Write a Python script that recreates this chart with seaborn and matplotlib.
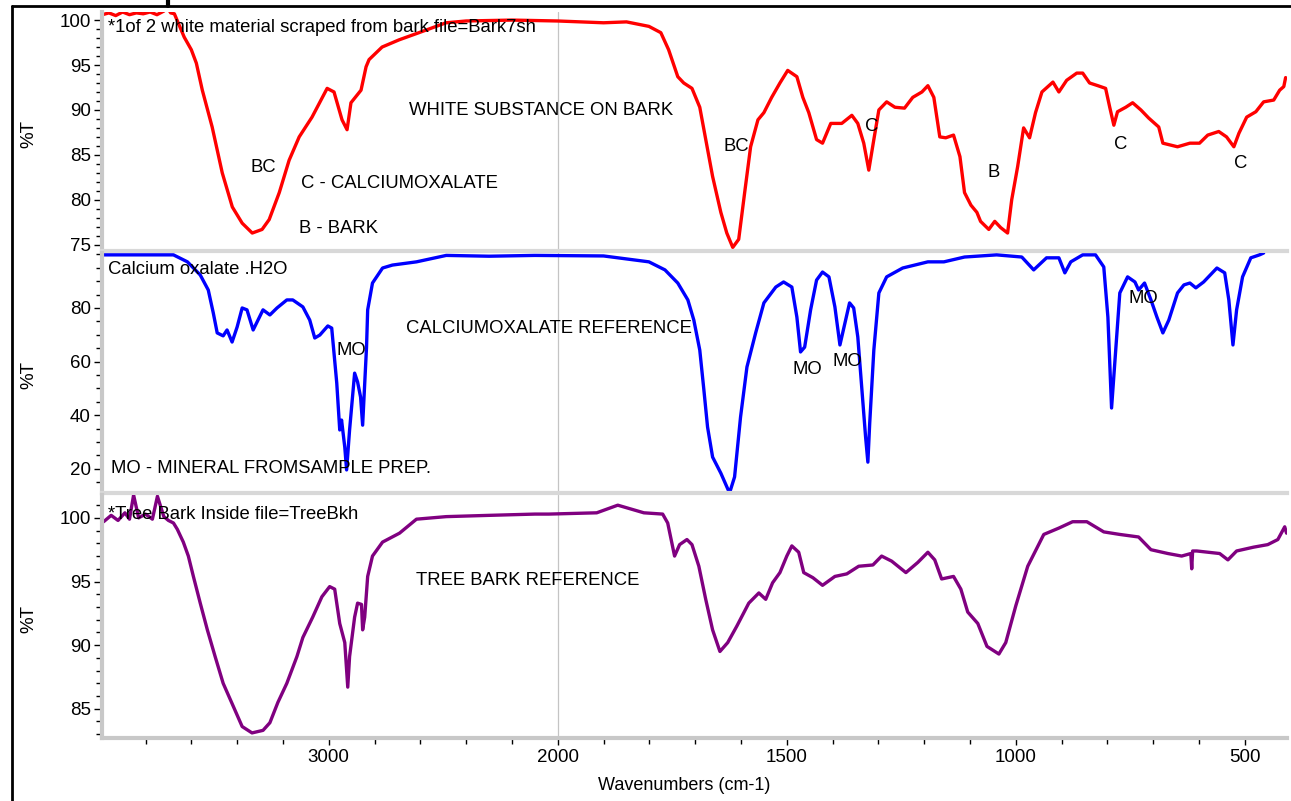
import numpy as np
import pandas as pd
import matplotlib
matplotlib.use("Agg")
import matplotlib.pyplot as plt
from matplotlib.lines import Line2D
from matplotlib.ticker import FixedLocator, NullFormatter
import seaborn as sns

# ---------------- data (wavenumber cm-1, %T) ----------------
red_wn = [3988, 3960, 3930, 3900, 3870, 3840, 3810, 3780, 3750, 3720, 3705, 3690, 3674,
          3631, 3600, 3578, 3552, 3509, 3465, 3421, 3378, 3334, 3291, 3260, 3216, 3173,
          3129, 3073, 3007, 2977, 2942, 2920, 2903, 2859, 2837, 2824, 2767, 2693, 2606,
          2488, 2400, 2200, 2000, 1900, 1850, 1820,
          1801, 1775, 1758, 1738, 1725, 1707, 1690, 1677, 1662, 1644, 1631, 1618, 1605,
          1592, 1579, 1563, 1550, 1533, 1515, 1498, 1478, 1465, 1452, 1435, 1422, 1404,
          1380, 1358, 1345, 1332, 1321, 1310, 1299, 1282, 1264, 1243, 1225, 1205, 1192,
          1179, 1166, 1153, 1136, 1122, 1112, 1098, 1085, 1077, 1059, 1046, 1033, 1018,
          1009, 996, 983, 970, 957, 943, 919, 906, 889, 867, 854, 839, 821, 804, 795,
          786, 778, 760, 745, 727, 710, 688, 679, 647, 620, 599, 581, 557, 540, 524, 513,
          496, 476, 459, 437, 424, 415, 411]
red_t = [100.6, 100.8, 100.5, 100.9, 100.6, 100.8, 100.7, 100.9, 100.6, 101.0, 101.4, 100.8, 100.7,
         98.1, 96.7, 95.2, 92.2, 88.1, 83.0, 79.2, 77.4, 76.3, 76.7, 77.8, 80.8, 84.4,
         87.0, 89.2, 92.4, 92.0, 88.9, 87.8, 90.8, 92.2, 94.8, 95.6, 97.0, 97.8, 98.6,
         99.7, 99.9, 100.0, 99.9, 99.7, 99.8, 99.5,
         99.3, 98.6, 96.7, 93.7, 93.0, 92.4, 90.3, 86.7, 82.6, 78.6, 76.3, 74.7, 75.6,
         80.8, 85.9, 88.9, 89.7, 91.4, 93.0, 94.4, 93.7, 91.4, 89.7, 86.7, 86.3, 88.5,
         88.5, 89.4, 88.5, 86.3, 83.3, 86.7, 90.0, 90.9, 90.3, 90.2, 91.4, 92.0, 92.7,
         91.4, 87.0, 86.9, 87.2, 84.8, 80.8, 79.4, 78.6, 77.6, 76.7, 77.6, 76.9, 76.3,
         80.0, 83.7, 88.0, 86.9, 89.7, 92.0, 93.1, 92.0, 93.3, 94.1, 94.1, 93.0, 92.7, 92.4, 90.3,
         88.3, 89.8, 90.3, 90.8, 90.0, 89.1, 88.1, 86.3, 85.9, 86.3, 86.3, 87.2, 87.6, 87.0, 85.9, 87.4,
         89.2, 89.8, 90.9, 91.1, 92.2, 92.6, 93.6]

blue_wn = [3983, 3678, 3617, 3561, 3526, 3504, 3487, 3461, 3444, 3422, 3400, 3378, 3357,
           3330, 3309, 3287, 3257, 3226, 3183, 3157, 3113, 3083, 3061, 3039, 3004, 2987,
           2974, 2965, 2952, 2944, 2930, 2922, 2909, 2896, 2887, 2874, 2861, 2852, 2843,
           2835, 2830, 2809, 2765, 2722, 2617, 2487, 2300, 2100, 1900,
           1801, 1766, 1738, 1716, 1703, 1690, 1681, 1673, 1662, 1644, 1625, 1614, 1601,
           1587, 1568, 1550, 1524, 1507, 1489, 1478, 1470, 1461, 1448, 1435, 1422, 1408,
           1395, 1384, 1373, 1363, 1354, 1345, 1336, 1328, 1323, 1319, 1310, 1299, 1282,
           1247, 1192, 1157, 1112, 1042, 987, 961, 933, 906, 893, 880, 854, 826, 808, 799,
           791, 782, 773, 756, 740, 732, 719, 705, 692, 679, 666, 647, 633, 620, 607, 590,
           561, 544, 535, 526, 518, 505, 487, 468, 459]
blue_t = [99.8, 99.8, 97.2, 92.3, 86.7, 78.1, 70.7, 69.6, 71.8, 67.3, 72.9, 80.0, 79.3,
          71.8, 75.5, 79.3, 77.4, 80.0, 83.0, 83.0, 80.4, 75.5, 68.8, 69.9, 73.3, 72.5,
          60.6, 52.0, 34.5, 38.2, 28.1, 19.6, 34.5, 46.8, 55.7, 52.4, 46.8, 36.3, 52.0,
          65.4, 79.3, 89.3, 94.9, 96.0, 97.2, 99.6, 99.3, 99.6, 99.4,
          97.2, 94.2, 89.3, 83.0, 75.5, 64.3, 49.4, 35.6, 24.4, 18.4, 11.0, 17.0, 39.3,
          58.0, 70.7, 81.9, 87.8, 89.7, 87.8, 76.6, 63.6, 65.4, 79.3, 90.4, 93.4, 91.6,
          80.4, 66.2, 74.4, 81.9, 80.0, 69.2, 49.4, 31.9, 22.5, 37.0, 64.3, 85.6, 91.6,
          94.9, 97.2, 97.2, 99.0, 99.8, 99.0, 94.2, 98.7, 98.7, 93.1, 97.2, 99.8, 99.8, 95.3, 76.6,
          42.7, 64.3, 85.6, 91.6, 89.7, 86.7, 89.3, 83.0, 76.6, 70.7, 75.5, 85.6, 88.6, 89.3, 87.5, 89.7,
          94.9, 93.1, 83.0, 66.2, 79.3, 91.6, 98.7, 99.8, 100.5]

purple_wn = [3983, 3950, 3920, 3890, 3870, 3852, 3830, 3800, 3770, 3748, 3720, 3700, 3678,
             3661, 3635, 3613, 3591, 3561, 3530, 3496, 3461, 3417, 3378, 3335, 3287, 3257,
             3222, 3183, 3139, 3113, 3070, 3030, 2996, 2974, 2952, 2930, 2917, 2909, 2887,
             2874, 2857, 2852, 2843, 2830, 2809, 2765, 2691, 2617, 2487, 2300, 2100, 2039,
             1915, 1869, 1812, 1771, 1760, 1745, 1734, 1718, 1707, 1692, 1677, 1662, 1646,
             1629, 1609, 1583, 1561, 1546, 1531, 1515, 1500, 1489, 1474, 1463, 1443, 1422,
             1395, 1369, 1343, 1312, 1293, 1271, 1240, 1214, 1192, 1177, 1162, 1136, 1120,
             1105, 1083, 1063, 1037, 1022, 1000, 974, 939, 906, 876, 845, 808, 773, 732,
             705, 668, 638, 618, 616, 614, 605, 555, 537, 518, 481, 450, 428, 413, 409]
purple_t = [99.7, 100.2, 99.8, 100.4, 99.9, 101.8, 100.0, 100.3, 99.9, 101.7, 100.1, 99.8, 99.6,
            99.1, 98.1, 97.0, 95.4, 93.3, 91.2, 89.1, 87.0, 85.2, 83.6, 83.1, 83.3, 83.9,
            85.5, 87.0, 89.1, 90.6, 92.2, 93.8, 94.6, 94.4, 91.7, 90.2, 86.7, 89.1, 92.2,
            93.3, 93.2, 91.2, 92.2, 95.4, 97.0, 98.1, 98.8, 99.9, 100.1, 100.2, 100.3, 100.3,
            100.4, 101.0, 100.4, 100.3, 99.6, 97.0, 97.9, 98.3, 97.9, 96.2, 93.6, 91.2, 89.5,
            90.2, 91.5, 93.3, 94.1, 93.6, 94.9, 95.7, 97.0, 97.8, 97.3, 95.7, 95.3, 94.7,
            95.4, 95.6, 96.2, 96.3, 97.0, 96.6, 95.7, 96.5, 97.3, 96.7, 95.2, 95.4, 94.4,
            92.6, 91.7, 89.9, 89.3, 90.2, 93.1, 96.2, 98.7, 99.2, 99.7, 99.7, 98.9, 98.7, 98.5,
            97.5, 97.2, 97.0, 97.2, 96.0, 97.4, 97.4, 97.2, 96.7, 97.4, 97.7, 97.9, 98.3, 99.3, 98.8]

panel_titles = ["*1of 2 white material scraped from bark file=Bark7sh",
                "Calcium oxalate .H2O",
                "*Tree Bark Inside file=TreeBkh"]
panel_names = ["WHITE SUBSTANCE ON BARK", "CALCIUMOXALATE REFERENCE", "TREE BARK REFERENCE"]

top_labels = ["BC", "BC", "C", "B", "C", "C"]
top_label_wn = [3287, 1611, 1315, 1048, 771, 509]
top_label_t = [83.6, 85.9, 88.2, 83.0, 86.2, 84.0]

mid_labels = ["MO", "MO", "MO", "MO"]
mid_label_wn = [2900, 1456, 1367, 721]
mid_label_t = [64.3, 56.9, 59.9, 83.7]

x_major = [3000, 2000, 1500, 1000, 500]
x_minor = [3800, 3600, 3400, 3200, 2800, 2600, 2400, 2200,
           1900, 1800, 1700, 1600, 1400, 1300, 1200, 1100, 900, 800, 700, 600]

# ---------------- style ----------------
sns.set_style("ticks")
plt.rcParams["font.family"] = ["Liberation Sans", "DejaVu Sans"]
plt.rcParams["text.color"] = "black"
plt.rcParams["axes.labelcolor"] = "black"
plt.rcParams["xtick.color"] = "black"
plt.rcParams["ytick.color"] = "black"

W, H = 1291, 801
fig = plt.figure(figsize=(W / 100, H / 100), dpi=100)


def fwd(x):
    x = np.asarray(x, dtype=float)
    return np.where(x > 2000, 2000 + (x - 2000) / 2.0, x)


def inv(u):
    u = np.asarray(u, dtype=float)
    return np.where(u > 2000, 2000 + (u - 2000) * 2.0, u)


L, R = 102, 1287
panels_px = [(12, 251), (253, 493), (495, 738)]
ylims = [(74.3, 100.9), (11.0, 100.5), (82.7, 101.8)]
series = [(red_wn, red_t, "#FF0000"), (blue_wn, blue_t, "#0000FF"), (purple_wn, purple_t, "#800080")]
ymaj = [list(range(75, 101, 5)), [20, 40, 60, 80], [85, 90, 95, 100]]
ymin = [list(range(75, 101)), [15, 25, 30, 35, 45, 50, 55, 65, 70, 75, 85, 90, 95, 100],
        list(range(83, 102))]

GRAY = "#d8d8d8"
TFS = 13.5
axes = []
for i, ((t, b), yl, (wn, tv, col)) in enumerate(zip(panels_px, ylims, series)):
    ax = fig.add_axes([L / W, 1 - b / H, (R - L) / W, (b - t) / H])
    axes.append(ax)
    ax.set_xscale("function", functions=(fwd, inv))
    df = pd.DataFrame({"wn": wn, "T": tv})
    sns.lineplot(data=df, x="wn", y="T", ax=ax, sort=False, estimator=None,
                 color=col, linewidth=2.4)
    ax.set_xlim(3990, 408)
    ax.set_ylim(*yl)
    ax.axvline(2000, color="#c4c4c4", linewidth=0.9, zorder=0)
    for s in ["top", "right"]:
        ax.spines[s].set_visible(False)
    ax.spines["left"].set_color("#c8c8c8")
    ax.spines["left"].set_linewidth(3)
    ax.spines["bottom"].set_color(GRAY if i < 2 else "#c8c8c8")
    ax.spines["bottom"].set_linewidth(3)
    ax.yaxis.set_major_locator(FixedLocator(ymaj[i]))
    ax.yaxis.set_minor_locator(FixedLocator(ymin[i]))
    ax.tick_params(axis="y", which="major", length=6, width=1.0, color="black",
                   labelsize=TFS, pad=2, direction="out")
    ax.tick_params(axis="y", which="minor", length=4, width=1.0, color="black", direction="out")
    ax.xaxis.set_major_locator(FixedLocator(x_major))
    ax.xaxis.set_minor_locator(FixedLocator(x_minor))
    ax.xaxis.set_minor_formatter(NullFormatter())
    if i < 2:
        ax.tick_params(axis="x", which="both", length=0, labelbottom=False)
    else:
        ax.tick_params(axis="x", which="major", length=5, width=1.0, color="black",
                       labelsize=TFS, pad=3, direction="out")
        ax.tick_params(axis="x", which="minor", length=4, width=1.0, color="black",
                       direction="out")
        ax.set_xticklabels([str(v) for v in x_major])
    ax.set_xlabel("")
    ax.set_ylabel("%T", fontsize=13.5)
    ax.yaxis.label.set_verticalalignment("center")
    ax.yaxis.set_label_coords(-0.0616, 0.49)
    ax.patch.set_alpha(0)

FS = 13.3
a0, a1, a2 = axes
a0.text(3965, 99.2, panel_titles[0], fontsize=FS, va="center", ha="left")
a0.text(2648, 89.9, panel_names[0], fontsize=FS, va="center", ha="left")
a0.text(3122, 81.8, "C - CALCIUMOXALATE", fontsize=FS, va="center", ha="left")
a0.text(3130, 76.8, "B - BARK", fontsize=FS, va="center", ha="left")
for s, xw, yv in zip(top_labels, top_label_wn, top_label_t):
    a0.text(xw, yv, s, fontsize=FS, va="center", ha="center")

a1.text(3965, 94.2, panel_titles[1], fontsize=FS, va="center", ha="left")
a1.text(2661, 72.5, panel_names[1], fontsize=FS, va="center", ha="left")
a1.text(3952, 20.3, "MO - MINERAL FROMSAMPLE PREP.", fontsize=FS, va="center", ha="left")
for s, xw, yv in zip(mid_labels, mid_label_wn, mid_label_t):
    a1.text(xw, yv, s, fontsize=FS, va="center", ha="center")

a2.text(3965, 100.26, panel_titles[2], fontsize=FS, va="center", ha="left")
a2.text(2617, 95.1, panel_names[2], fontsize=FS, va="center", ha="left")

fig.text(684 / W, 1 - 785 / H, "Wavenumbers (cm-1)", fontsize=13, ha="center", va="center")

fig.add_artist(Line2D([12 / W, 12 / W], [0, 1 - 6 / H], transform=fig.transFigure,
                      color="black", linewidth=2))
fig.add_artist(Line2D([12 / W, 1], [1 - 6 / H, 1 - 6 / H], transform=fig.transFigure,
                      color="black", linewidth=2))
fig.add_artist(Line2D([168 / W, 168 / W], [1 - 6 / H, 1], transform=fig.transFigure,
                      color="black", linewidth=3))

fig.savefig("out.png", dpi=100)
